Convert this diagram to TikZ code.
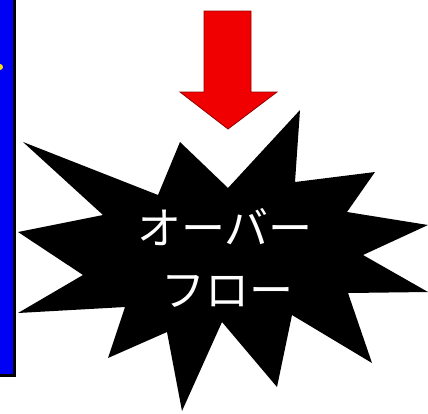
\documentclass[tikz,border=0pt]{standalone}
\usepackage{fontspec}
\newfontfamily\cjk{Noto Sans CJK JP}
\definecolor{barblue}{RGB}{0,0,245}
\definecolor{arrowred}{RGB}{240,0,0}
\definecolor{arrowedge}{RGB}{150,0,0}
\tikzset{
  burst/.style={fill=black},
  burstlabel/.style={text=white, font=\cjk\fontsize{44}{48}\selectfont, inner sep=0pt},
  redarrow/.style={fill=arrowred, draw=arrowedge, line width=0.8pt, line join=miter},
  sidebar/.style={fill=barblue, draw=black, line width=3pt}
}
\begin{document}
\begin{tikzpicture}[x=1pt,y=-1pt]
\useasboundingbox (0,0) rectangle (428,413);
\fill[white] (0,0) rectangle (428,413);
% left blue bar
\draw[sidebar] (-5,-5) rectangle (14.5,375.5);
\fill[yellow!80!orange] (0,67) circle (3);
% red arrow
\draw[redarrow] (204,11) -- (251,11) -- (251,92) -- (277,92) -- (228,129) -- (180,92) -- (204,92) -- cycle;
% starburst
\fill[burst] (23,142) -- (158,195) -- (180,142) -- (228,188) -- (300,110) -- (295,182)
  -- (375,172) -- (347,212) -- (428,225) -- (363,255) -- (428,292) -- (348,293)
  -- (372,363) -- (292,315) -- (277,387) -- (222,322) -- (182,411) -- (167,332)
  -- (108,358) -- (125,307) -- (18,313) -- (83,275) -- (18,232) -- (103,215) -- cycle;
\node[burstlabel] (l1) at (225,227) {オーバー};
\node[burstlabel] (l2) at (227,291) {フロー};
\end{tikzpicture}
\end{document}
